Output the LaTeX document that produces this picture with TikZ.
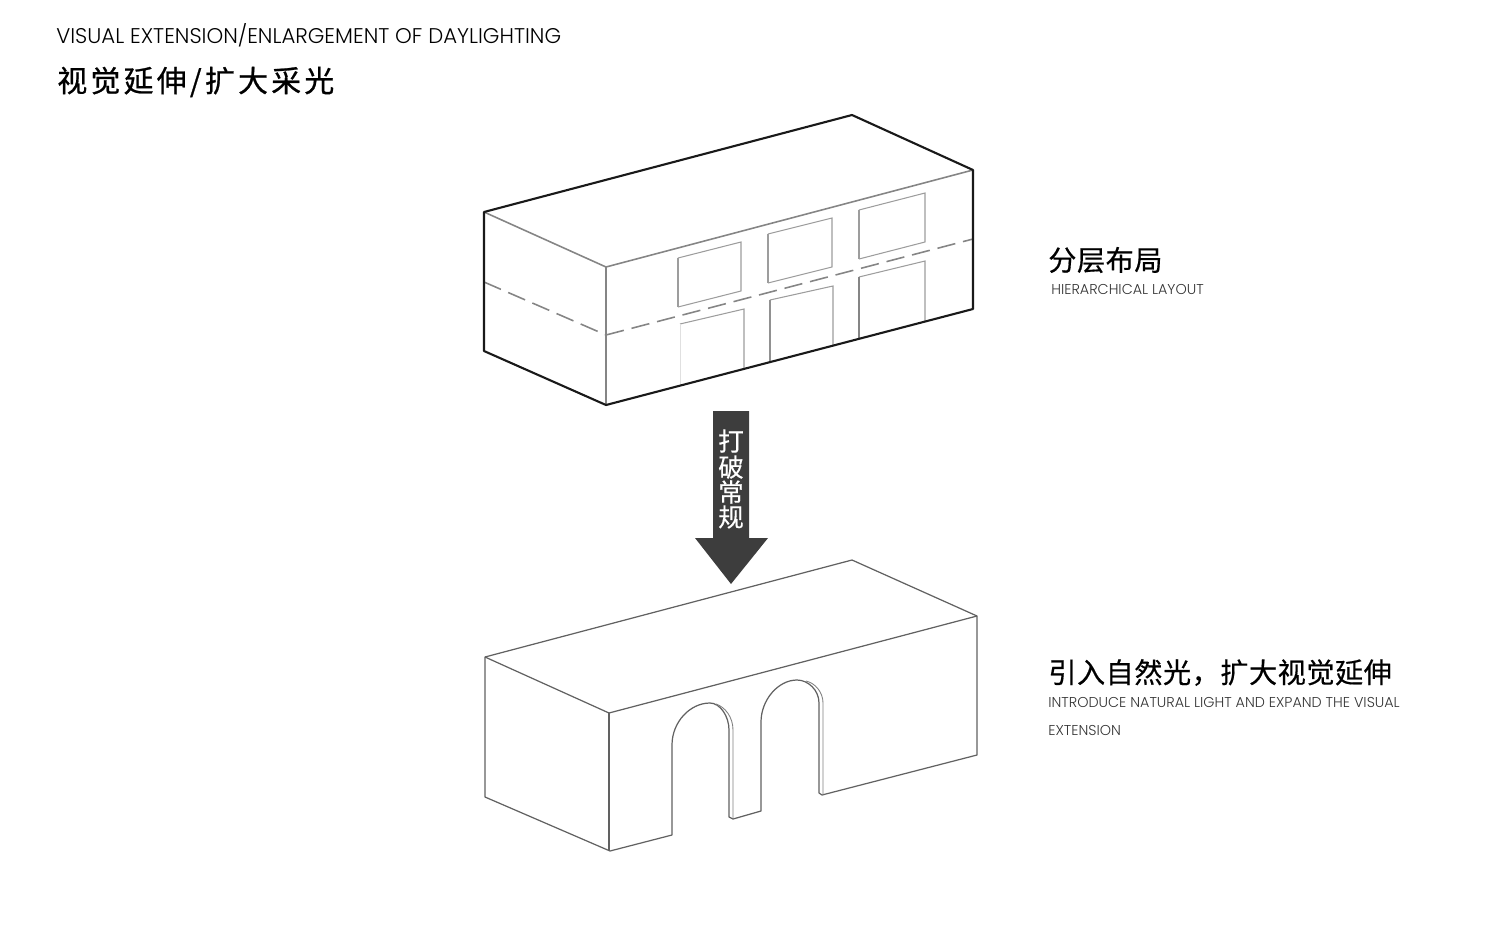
\documentclass[tikz,border=0pt]{standalone}
\usepackage{fontspec}
\setmainfont{Poppins Light}
\newfontfamily\cjkhead[FakeBold=0.8,LetterSpace=11]{Noto Sans CJK SC}
\newfontfamily\cjksub[FakeBold=0.5,LetterSpace=2]{Noto Sans CJK SC}
\newfontfamily\cjkarrow[FakeBold=0.4]{Noto Sans CJK SC}
\definecolor{arrowgrey}{HTML}{3D3D3D}
\definecolor{edgegrey}{HTML}{858585}
\tikzset{
    outer/.style={line width=1.2pt, black!90, line join=round},
    inner/.style={line width=0.9pt, edgegrey},
    pane/.style={line width=0.6pt, edgegrey!80},
    shell/.style={line width=0.7pt, black!62, line join=round},
    subtitle/.style={anchor=west, inner sep=0pt, font=\cjksub\fontsize{16}{16}\selectfont},
    caption/.style={anchor=west, inner sep=0pt, align=left, black!80, font=\fontsize{8.15}{16}\selectfont},
}
\begin{document}
\begin{tikzpicture}[x=0.02cm, y=-0.02cm]
    \useasboundingbox (0,0) rectangle (1500,930);

    \node[anchor=west, inner sep=0pt, font=\fontsize{12.1}{14}\selectfont] (headEn) at (56,35.5) {VISUAL EXTENSION/ENLARGEMENT OF DAYLIGHTING};
    \node[anchor=west, inner sep=0pt, font=\cjkhead\fontsize{17}{17}\selectfont] (headCn) at (57,82) {视觉延伸/扩大采光};

    % upper block
    \draw[inner] (484,212) -- (606,267) -- (973,170);
    \draw[inner] (606,267) -- (606,405);
    \draw[inner, dash pattern=on 10.5pt off 4.5pt] (484,282) -- (606,335);
    \draw[inner, dash pattern=on 10.5pt off 4.5pt] (606,335) -- (973,239);
    \foreach \x/\ya/\yb/\w/\e in {678/258/242/63/0.6pt, 768/234/218/64/0.6pt, 859/210/193/66/1.1pt} {
        \draw[pane] (\x,\ya) -- (\x+\w,\yb) -- (\x+\w,\yb+49) -- (\x,\ya+49);
        \draw[pane, line width=\e] (\x,\ya+49) -- (\x,\ya);
    }
    \foreach \x/\ya/\yb/\w/\e/\c in {680/324/309/64/0.5pt/25, 770/300/286/63/0.8pt/90, 859/277/261/66/1.1pt/100} {
        \draw[pane] (\x,\ya) -- (\x+\w,\yb) -- (\x+\w,\yb+60);
        \draw[line width=\e, edgegrey!\c] (\x,\ya+61) -- (\x,\ya);
    }
    \draw[outer] (484,212) -- (852,115) -- (973,170) -- (973,309) -- (606,405) -- (484,351) -- cycle;

    % arrow
    \fill[arrowgrey] (713,411) -- (749,411) -- (749,538) -- (768,538) -- (731,584) -- (695,538) -- (713,538) -- cycle;
    \foreach \y/\c [count=\i] in {441/打, 467/破, 492/常, 517/规} {
        \node[white, inner sep=0pt, font=\cjkarrow\fontsize{14.5}{14.5}\selectfont] (arrowText\i) at (731,\y) {\c};
    }

    % lower block
    \draw[shell] (485,657) -- (852,560) -- (977,616) -- (977,755) -- (822,795)
        -- (819,793) -- (819,703) .. controls (819,690) and (808,680) .. (797,680)
        .. controls (778,680) and (761,700) .. (761,722) -- (761,811) -- (733,819) -- (729,817)
        -- (729,730) .. controls (729,716) and (720,703) .. (710,703)
        .. controls (690,703) and (672,722) .. (672,745) -- (672,835) -- (610,851) -- (485,797) -- cycle;
    \draw[shell] (485,657) -- (609,713) -- (977,616);
    \draw[shell] (609,713) -- (609,851);
    \draw[line width=0.5pt, black!50] (733,819) -- (733,730) .. controls (733,717) and (725,707) .. (716,704);
    \draw[line width=0.5pt, black!50] (823,795) -- (823,703) .. controls (823,692) and (815,683) .. (806,681);

    \node[subtitle] (layoutCn) at (1048,260) {分层布局};
    \node[caption] (layoutEn) at (1051,289) {HIERARCHICAL LAYOUT};
    \node[subtitle] (lightCn) at (1048,672.5) {引入自然光，扩大视觉延伸};
    \node[caption] (lightEn) at (1048,716.5) {INTRODUCE NATURAL LIGHT AND EXPAND THE VISUAL\\EXTENSION};
\end{tikzpicture}
\end{document}
